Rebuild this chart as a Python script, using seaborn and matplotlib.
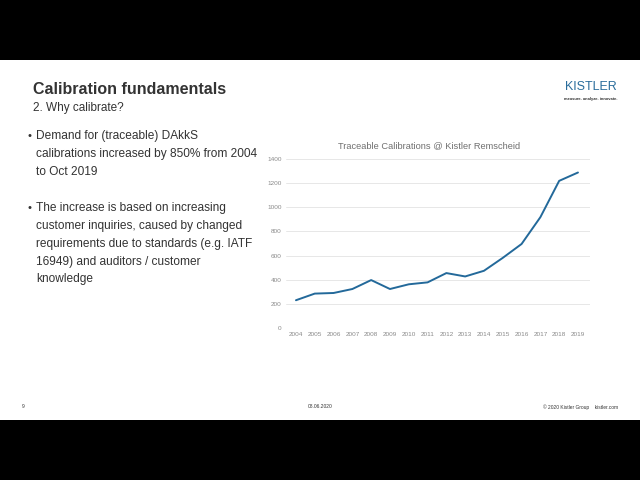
import matplotlib
matplotlib.use("Agg")
import matplotlib.pyplot as plt
from matplotlib.patches import Rectangle
import seaborn as sns
import pandas as pd

years = [str(y) for y in range(2004, 2020)]
calibrations = [230, 285, 290, 323, 397, 323, 362, 378, 455, 427, 474, 581, 696, 918, 1219, 1288]
y_ticks = [0, 200, 400, 600, 800, 1000, 1200, 1400]

chart_title = "Traceable Calibrations @ Kistler Remscheid"
slide_title = "Calibration fundamentals"
slide_subtitle = "2. Why calibrate?"
bullet1 = ["Demand for (traceable) DAkkS",
           "calibrations increased by 850% from 2004",
           "to Oct 2019"]
bullet2 = ["The increase is based on increasing",
           "customer inquiries, caused by changed",
           "requirements due to standards (e.g. IATF",
           "16949) and auditors / customer",
           "knowledge"]

sns.set_theme(style="white")
plt.rcParams['font.family'] = ['Liberation Sans', 'DejaVu Sans']

fig = plt.figure(figsize=(6.4, 4.8), dpi=100)
fig.patch.set_facecolor("white")

# black letterbox bars
fig.add_artist(Rectangle((0, 1 - 60/480), 1, 60/480, transform=fig.transFigure,
                         facecolor="black", edgecolor="none", zorder=0))
fig.add_artist(Rectangle((0, 0), 1, 60/480, transform=fig.transFigure,
                         facecolor="black", edgecolor="none", zorder=0))

def px(x, y):
    return x / 640, 1 - y / 480

# Titles
fig.text(*px(33, 89), slide_title, fontsize=11.5, fontweight="bold",
         color="#333333", va="center", ha="left")
fig.text(*px(33, 108), slide_subtitle, fontsize=8.5, color="#333333",
         va="center", ha="left")

# Bullets
text_color = "#333333"
ys1 = [136, 154, 172]
for i, (line, yy) in enumerate(zip(bullet1, ys1)):
    if i == 0:
        fig.text(*px(28, yy), "•", fontsize=8, color=text_color, va="center")
    fig.text(*px(36, yy), line, fontsize=8.6, color=text_color, va="center")
ys2 = [208, 226, 244, 262, 279]
for i, (line, yy) in enumerate(zip(bullet2, ys2)):
    if i == 0:
        fig.text(*px(28, yy), "•", fontsize=8, color=text_color, va="center")
    fig.text(*px(36, yy), line, fontsize=8.6, color=text_color, va="center")

# Logo
fig.text(*px(591, 87), "KISTLER", fontsize=9, color="#2a6d9c",
         ha="center", va="center")
fig.text(*px(591, 99), "measure. analyze. innovate.", fontsize=2.9,
         color="#333333", ha="center", va="center", fontweight="bold")

# Footer
fig.text(*px(22, 407), "9", fontsize=3.5, color="#333333", ha="left", va="center")
fig.text(*px(320, 407), "08.06.2020", fontsize=3.5, color="#333333", ha="center", va="center")
fig.text(*px(618, 407), "© 2020 Kistler Group    kistler.com", fontsize=3.5,
         color="#333333", ha="right", va="center")

# Chart
ax = fig.add_axes([286/640, 1 - 328/480, (590 - 286)/640, (328 - 159)/480])
df = pd.DataFrame({"year": years, "value": calibrations})
df["pos"] = range(len(years))
sns.lineplot(data=df, x="pos", y="value", ax=ax, color="#23699a", linewidth=1.4)
ax.set_xlim(-0.53, 15.64)
ax.set_ylim(0, 1400)
ax.set_yticks(y_ticks)
ax.set_yticklabels([str(t) for t in y_ticks])
ax.set_xticks(range(len(years)))
ax.set_xticklabels(years)
ax.tick_params(axis="both", labelsize=4.6, colors="#8a8a8a", length=0, pad=3)
ax.yaxis.grid(True, color="#e3e3e3", linewidth=0.6)
ax.xaxis.grid(False)
ax.set_axisbelow(True)
for s in ax.spines.values():
    s.set_visible(False)
ax.set_xlabel("")
ax.set_ylabel("")
ax.set_facecolor("none")
fig.text(*px(429, 146), chart_title, fontsize=6.7, color="#707070",
         ha="center", va="center")

fig.savefig("out.png", dpi=100)
